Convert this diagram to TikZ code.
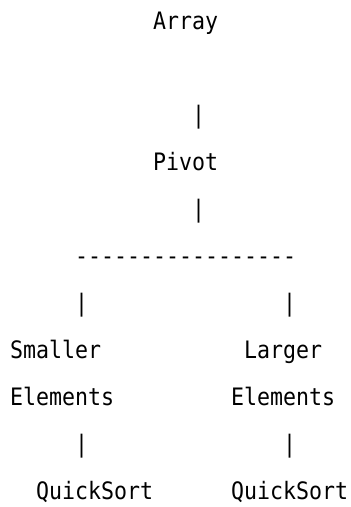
\documentclass[tikz,border=0pt]{standalone}
\usepackage{fontspec}
\setmonofont[FakeStretch=0.9]{DejaVu Sans Mono}
\begin{document}
\begin{tikzpicture}[x=1pt,y=1pt,
  txt/.style={anchor=base west,inner sep=0pt,outer sep=0pt,font=\ttfamily\fontsize{24}{28}\selectfont}]
\useasboundingbox[fill=white] (0,0) rectangle (351,-507);
\def\cw{13}
\def\rh{47}
\newcommand{\At}[2]{(10+#1*\cw,-#2*\rh-29)}
\node[txt] (array) at \At{11}{0} {Array};
\node[txt] (bar1) at \At{14}{2} {|};
\node[txt] (pivot) at \At{11}{3} {Pivot};
\node[txt] (bar2) at \At{14}{4} {|};
\node[txt] (dashes) at \At{5}{5} {-----------------};
\node[txt] (barl) at \At{5}{6} {|};
\node[txt] (barr) at \At{21}{6} {|};
\node[txt] (smaller) at \At{0}{7} {Smaller};
\node[txt] (larger) at \At{18}{7} {Larger};
\node[txt] (eleml) at \At{0}{8} {Elements};
\node[txt] (elemr) at \At{17}{8} {Elements};
\node[txt] (barl2) at \At{5}{9} {|};
\node[txt] (barr2) at \At{21}{9} {|};
\node[txt] (qsl) at \At{2}{10} {QuickSort};
\node[txt] (qsr) at \At{17}{10} {QuickSort};
\end{tikzpicture}
\end{document}
